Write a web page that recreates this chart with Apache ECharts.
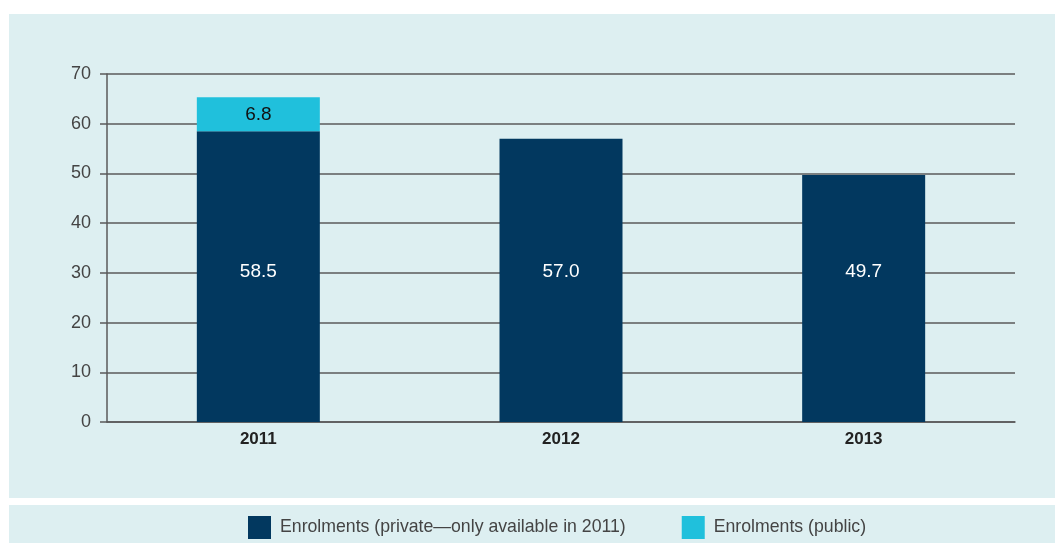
<!DOCTYPE html>
<html><head><meta charset="utf-8">
<script src="https://cdn.jsdelivr.net/npm/echarts@6/dist/echarts.min.js"></script>
<style>html,body{margin:0;padding:0;background:#fff;}#c{width:1055px;height:543px;}</style>
</head><body><div id="c"></div>
<script>
const categories = ['2011', '2012', '2013'];
const privateVals = [58.5, 57.0, 49.7];
const publicVals = [6.8, null, null];
const seriesNames = ['Enrolments (private\u2014only available in 2011)', 'Enrolments (public)'];
const yTicks = {min: 0, max: 70, interval: 10};

const chart = echarts.init(document.getElementById('c'), null, {renderer: 'canvas'});
const font = 'Helvetica, Arial, "Liberation Sans", sans-serif';
chart.setOption({
  backgroundColor: '#ffffff',
  animation: false,
  graphic: [
    {type: 'rect', z: -10, shape: {x: 9, y: 14, width: 1046, height: 484}, style: {fill: '#ddeff1'}},
    {type: 'rect', z: -10, shape: {x: 9, y: 505, width: 1046, height: 38}, style: {fill: '#ddeff1'}}
  ],
  grid: {left: 107, right: 40, top: 74, bottom: 121, containLabel: false},
  legend: {
    top: 516, left: 248, padding: 0, itemWidth: 23, itemHeight: 23, itemGap: 56,
    icon: 'rect',
    textStyle: {fontFamily: font, fontSize: 17.7, color: '#444', padding: [0, 0, 0, 4]},
    data: seriesNames
  },
  xAxis: {
    type: 'category', data: categories,
    axisLine: {show: true, lineStyle: {color: '#5a5a5a', width: 1.5}},
    axisTick: {show: false},
    axisLabel: {fontFamily: font, fontSize: 17, fontWeight: 'bold', color: '#222', margin: 9}
  },
  yAxis: {
    type: 'value', min: yTicks.min, max: yTicks.max, interval: yTicks.interval,
    axisLine: {show: true, lineStyle: {color: '#5a5a5a', width: 1.5}},
    axisTick: {show: true, length: 7, lineStyle: {color: '#5a5a5a', width: 1.5}},
    splitLine: {lineStyle: {color: '#5a5a5a', width: 1.5}},
    axisLabel: {fontFamily: font, fontSize: 18, color: '#444', margin: 16}
  },
  series: [
    {
      name: seriesNames[0], type: 'bar', stack: 's', data: privateVals, barWidth: 123,
      itemStyle: {color: '#02385f'},
      label: {show: true, position: 'insideBottom', distance: 141, color: '#fff', fontFamily: font, fontSize: 19,
        formatter: p => p.value.toFixed(1)}
    },
    {
      name: seriesNames[1], type: 'bar', stack: 's', data: publicVals, barWidth: 123,
      itemStyle: {color: '#20c0dc'},
      label: {show: true, position: 'inside', color: '#111', fontFamily: font, fontSize: 19,
        formatter: p => p.value == null ? '' : p.value.toFixed(1)}
    }
  ]
});
</script></body></html>
